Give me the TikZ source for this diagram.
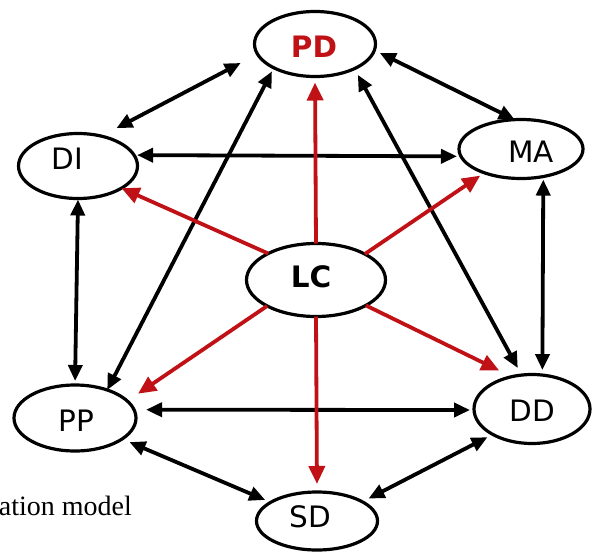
\documentclass[tikz,border=0pt]{standalone}
\usepackage{fontspec}
\newfontfamily\labelfont{DejaVu Sans}
\newfontfamily\capfont{Liberation Serif}
\usetikzlibrary{arrows.meta,shapes.geometric}
\definecolor{lcred}{RGB}{192,18,22}
\tikzset{bubble/.style={ellipse, draw=black, line width=3.2pt, inner sep=0pt, outer sep=0pt},
tag/.style={inner sep=0pt, font=\labelfont\fontsize{29.5}{32}\selectfont},
link/.style={{Triangle[length=16pt,width=14pt]}-{Triangle[length=16pt,width=14pt]}, line width=3.8pt},
impact/.style={-{Triangle[length=18pt,width=16pt]}, draw=lcred, line width=3.8pt}}

\begin{document}
\begin{tikzpicture}[x=1pt,y=-1pt]
	\useasboundingbox (0,0) rectangle (594,554);
	\node[bubble, minimum width=121pt, minimum height=65pt] (PD) at (315,44) {};
	\node[bubble, minimum width=119pt, minimum height=65pt] (DI) at (78,166) {};
	\node[bubble, minimum width=124pt, minimum height=59pt] (MA) at (521,149) {};
	\node[bubble, minimum width=139pt, minimum height=73pt] (LC) at (316,280) {};
	\node[bubble, minimum width=122pt, minimum height=66pt] (PP) at (75,418) {};
	\node[bubble, minimum width=116pt, minimum height=69pt] (DD) at (532,409) {};
	\node[bubble, minimum width=121pt, minimum height=58pt] (SD) at (317,521) {};
	\node[tag, text=lcred] (PD-t) at (314,47) {\bfseries PD};
	\node[tag] (DI-t) at (67,159) {DI};
	\node[tag] (MA-t) at (531,152) {MA};
	\node[tag] (LC-t) at (311,277) {\bfseries LC};
	\node[tag] (PP-t) at (76,421) {PP};
	\node[tag] (DD-t) at (532,411) {DD};
	\node[tag] (SD-t) at (310,517) {SD};
	\node[anchor=base east, inner sep=0pt, font=\capfont\fontsize{28}{30}\selectfont] (cap) at (132,515) {ation model};
	\draw[link, shorten <=17pt, shorten >=19pt] (DI.52) -- (PD.190);
	\draw[link, shorten <=6pt] (PD.354) -- (MA.102);
	\draw[link, shorten <=3pt, shorten >=4pt] (DI.11) -- (MA.187);
	\draw[link, shorten <=1pt, shorten >=4pt] (DI.270) -- (PP.90);
	\draw[link, shorten <=3pt, shorten >=5pt] (MA.309) -- (DD.73);
	\draw[link, shorten <=12pt, shorten >=4pt] (PP.8) -- (DD.181);
	\draw[link, shorten <=8pt, shorten >=6pt] (PP.336) -- (SD.158);
	\draw[link, shorten <=7pt, shorten >=6pt] (SD.23) -- (DD.213);
	\draw[link, shorten >=4pt] (PP.41) -- (PD.210);
	\draw[link, shorten <=7pt, shorten >=8pt] (PD.328) -- (DD.107);
	\draw[impact, shorten >=6pt] (LC.90) -- (PD.270);
	\draw[impact] (LC.151) -- (DI.333);
	\draw[impact, shorten >=5pt] (LC.28) -- (MA.213);
	\draw[impact, shorten >=13pt] (LC.208) -- (PP.18);
	\draw[impact, shorten >=14pt] (LC.333) -- (DD.122);
	\draw[impact, shorten >=8pt] (LC.270) -- (SD.90);
\end{tikzpicture}
\end{document}
